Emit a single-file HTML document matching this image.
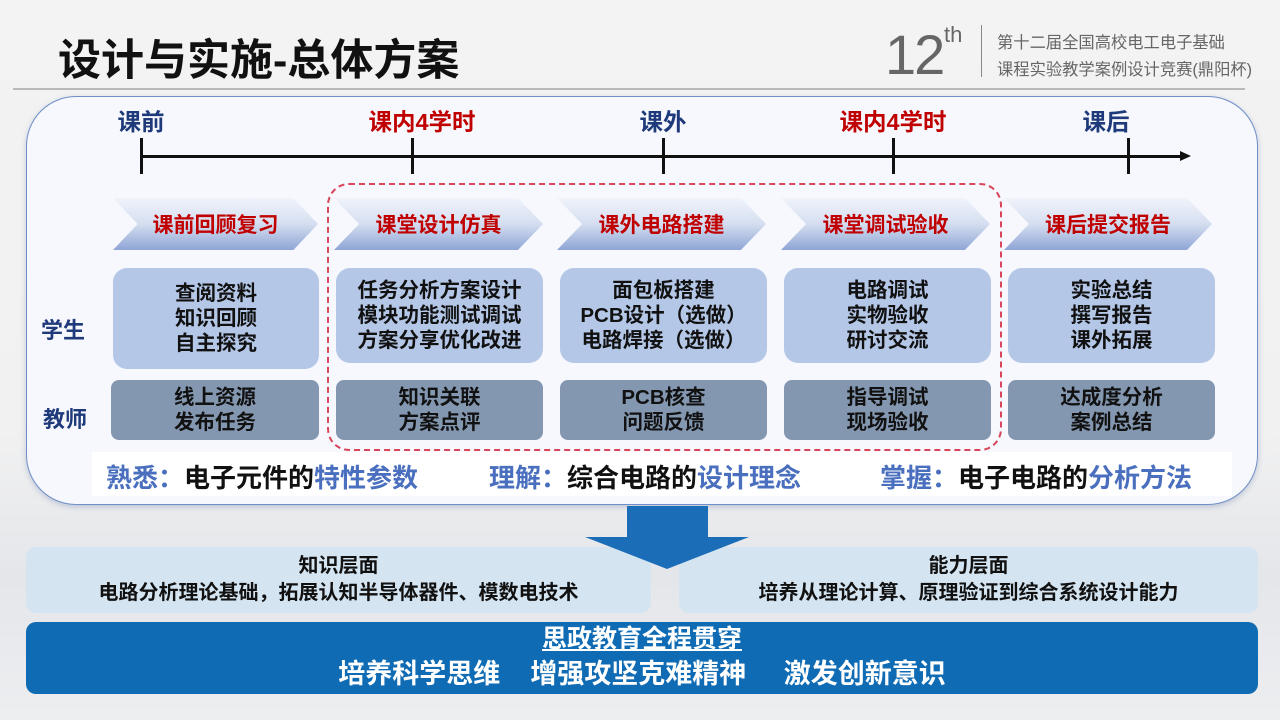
<!DOCTYPE html>
<html><head><meta charset="utf-8">
<style>
*{margin:0;padding:0;box-sizing:border-box}
body{width:1280px;height:720px;overflow:hidden;position:relative;background:linear-gradient(#f3f3f3 0%,#f1f1f1 60%,#e4e6ea 80%,#eceef0 100%);font-family:"Liberation Sans","Noto Sans CJK SC",sans-serif}
.a{position:absolute}
.t{font-weight:bold}
.c{display:flex;flex-direction:column;align-items:center;justify-content:center;text-align:center;font-weight:bold;color:#111;font-size:20.5px;line-height:25px}
.chev{position:absolute;top:198px;height:52px;clip-path:polygon(0 0,88% 0,100% 50%,88% 100%,0 100%,12% 50%);background:linear-gradient(#f0f3fa,#d5def0 50%,#8ea5d6);color:#c00000;font-weight:bold;font-size:21px;display:flex;align-items:center;justify-content:center}
.s{position:absolute;background:#b4c7e7;border-radius:14px}
.te{position:absolute;background:#8497b0;border-radius:8px;top:380px;height:60px}
.tk{position:absolute;width:3px;height:36px;top:138px;background:#111}
.lb{position:absolute;top:103px;font-size:23.5px;font-weight:bold;transform:translateX(-50%);white-space:nowrap}
</style></head><body>
<div class="a t" style="left:58px;top:26px;font-size:43px;color:#111">设计与实施-总体方案</div>
<div class="a" style="left:885px;top:22px;font-size:56px;color:#666;font-weight:300;letter-spacing:-2px">12</div>
<div class="a" style="left:944px;top:22px;font-size:22px;color:#666">th</div>
<div class="a" style="left:981px;top:25px;width:1px;height:52px;background:#888"></div>
<div class="a" style="left:997px;top:30px;font-size:16.3px;color:#666;line-height:27px">第十二届全国高校电工电子基础<br>课程实验教学案例设计竞赛(鼎阳杯)</div>
<div class="a" style="left:13px;top:88px;width:1232px;height:2px;background:#b8b8b8"></div>

<div class="a" style="left:26px;top:96px;width:1232px;height:409px;border-radius:50px;background:#f6f8fd;border:1.5px solid #6f8fc8;box-shadow:0 2px 6px rgba(100,120,170,.35)"></div>

<div class="a" style="left:141px;top:155px;width:1042px;height:3px;background:#111"></div>
<div class="a" style="left:1180px;top:151px;width:0;height:0;border-left:11px solid #111;border-top:5px solid transparent;border-bottom:5px solid transparent"></div>
<div class="tk" style="left:140px"></div><div class="tk" style="left:411px"></div><div class="tk" style="left:662px"></div><div class="tk" style="left:892px"></div><div class="tk" style="left:1127px"></div>
<div class="lb" style="left:141px;color:#1f3a7a">课前</div>
<div class="lb" style="left:422px;color:#c00000">课内4学时</div>
<div class="lb" style="left:663px;color:#1f3a7a">课外</div>
<div class="lb" style="left:893px;color:#c00000">课内4学时</div>
<div class="lb" style="left:1106px;color:#1f3a7a">课后</div>

<div class="a" style="left:327px;top:183px;width:675px;height:268px;border:2.5px dashed #d9455b;border-radius:22px"></div>

<div class="chev" style="left:113px;width:205px">课前回顾复习</div>
<div class="chev" style="left:334px;width:209px">课堂设计仿真</div>
<div class="chev" style="left:557px;width:209px">课外电路搭建</div>
<div class="chev" style="left:781px;width:209px">课堂调试验收</div>
<div class="chev" style="left:1004px;width:208px">课后提交报告</div>

<div class="a t" style="left:41px;top:313px;font-size:22px;color:#1f3a7a">学生</div>
<div class="a t" style="left:43px;top:402px;font-size:22px;color:#1f3a7a">教师</div>

<div class="s c" style="left:113px;top:268px;width:206px;height:101px">查阅资料<br>知识回顾<br>自主探究</div>
<div class="s c" style="left:336px;top:268px;width:207px;height:95px">任务分析方案设计<br>模块功能测试调试<br>方案分享优化改进</div>
<div class="s c" style="left:560px;top:268px;width:207px;height:95px">面包板搭建<br>PCB设计（选做）<br>电路焊接（选做）</div>
<div class="s c" style="left:784px;top:268px;width:207px;height:95px">电路调试<br>实物验收<br>研讨交流</div>
<div class="s c" style="left:1008px;top:268px;width:207px;height:95px">实验总结<br>撰写报告<br>课外拓展</div>

<div class="te c" style="left:111px;width:208px">线上资源<br>发布任务</div>
<div class="te c" style="left:336px;width:207px">知识关联<br>方案点评</div>
<div class="te c" style="left:560px;width:207px">PCB核查<br>问题反馈</div>
<div class="te c" style="left:784px;width:207px">指导调试<br>现场验收</div>
<div class="te c" style="left:1008px;width:207px">达成度分析<br>案例总结</div>

<div class="a" style="left:92px;top:452px;width:1140px;height:44px;background:#fff"></div>
<div class="a t" style="left:106px;top:458px;font-size:26px;white-space:nowrap"><span style="color:#4a6fbe">熟悉：</span><span style="color:#111">电子元件的</span><span style="color:#4a6fbe">特性参数</span></div>
<div class="a t" style="left:489px;top:458px;font-size:26px;white-space:nowrap"><span style="color:#4a6fbe">理解：</span><span style="color:#111">综合电路的</span><span style="color:#4a6fbe">设计理念</span></div>
<div class="a t" style="left:880px;top:458px;font-size:26px;white-space:nowrap"><span style="color:#4a6fbe">掌握：</span><span style="color:#111">电子电路的</span><span style="color:#4a6fbe">分析方法</span></div>

<div class="a" style="left:26px;top:547px;width:625px;height:66px;background:#d4e4f1;border-radius:10px"></div>
<div class="a" style="left:679px;top:547px;width:579px;height:66px;background:#d4e4f1;border-radius:10px"></div>
<div class="a c" style="left:26px;top:547px;width:625px;height:66px;font-size:20px;line-height:27px">知识层面<br>电路分析理论基础，拓展认知半导体器件、模数电技术</div>
<div class="a c" style="left:679px;top:547px;width:579px;height:66px;font-size:20px;line-height:27px">能力层面<br>培养从理论计算、原理验证到综合系统设计能力</div>

<svg class="a" style="left:584px;top:506px" width="166" height="64"><polygon points="43,0 124,0 124,31 165,31 83,63 1,31 43,31" fill="#1c6db8"/></svg>

<div class="a" style="left:26px;top:622px;width:1232px;height:72px;background:#0f6bb3;border-radius:10px"></div>
<div class="a t" style="left:26px;top:624px;width:1232px;text-align:center;color:#fff;font-size:25px;line-height:30px"><span style="text-decoration:underline">思政教育全程贯穿</span></div>
<div class="a t" style="left:26px;top:657px;width:1232px;text-align:center;color:#fff;font-size:27px;line-height:34px;white-space:pre">培养科学思维    增强攻坚克难精神     激发创新意识</div>
</body></html>
